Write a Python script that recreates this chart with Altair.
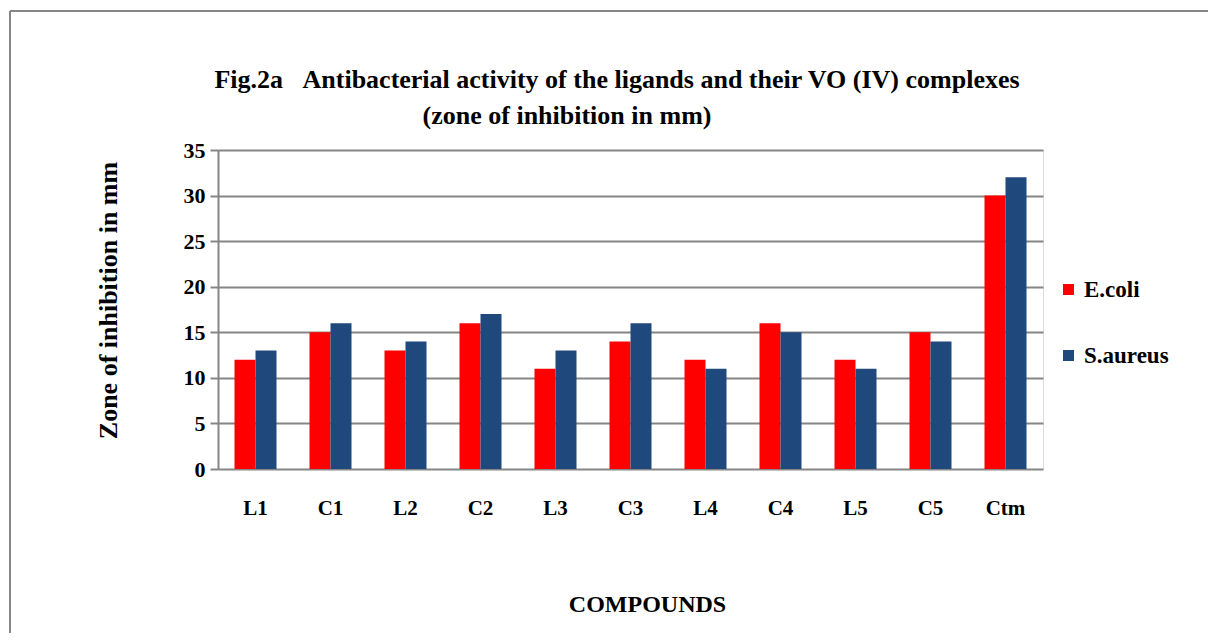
import altair as alt
import pandas as pd

categories = ["L1", "C1", "L2", "C2", "L3", "C3", "L4", "C4", "L5", "C5", "Ctm"]
ecoli = [12, 15, 13, 16, 11, 14, 12, 16, 12, 15, 30]
saureus = [13, 16, 14, 17, 13, 16, 11, 15, 11, 14, 32]
series = ["E.coli", "S.aureus"]
colors = ["#FF0000", "#1F497D"]
y_ticks = [0, 5, 10, 15, 20, 25, 30, 35]

title_line1 = "Fig.2a\u00a0\u00a0\u00a0Antibacterial activity of the ligands and their VO (IV) complexes"
title_line2 = "(zone of inhibition in mm)"

rows = []
for c, e, s in zip(categories, ecoli, saureus):
    rows.append({"Compound": c, "Organism": series[0], "Zone": e})
    rows.append({"Compound": c, "Organism": series[1], "Zone": s})
df = pd.DataFrame(rows)

FONT = "Liberation Serif"
GRID = "#868686"
W, H = 825, 319

bars = alt.Chart(df).mark_bar().encode(
    x=alt.X("Compound:N", sort=categories,
            scale=alt.Scale(paddingInner=0.44, paddingOuter=0.22),
            axis=alt.Axis(title="COMPOUNDS", labelAngle=0, domain=False, ticks=False,
                          labelFont=FONT, labelFontSize=21, labelFontWeight="bold",
                          labelColor="black", labelPadding=28,
                          titleFont=FONT, titleFontSize=24, titleFontWeight="bold",
                          titleColor="black", titleX=429, titleY=135,
                          titleBaseline="middle", titleAnchor="middle")),
    xOffset=alt.XOffset("Organism:N", sort=series),
    y=alt.Y("Zone:Q", scale=alt.Scale(domain=[0, 35], nice=False),
            axis=alt.Axis(title="Zone of inhibition in mm", values=y_ticks,
                          domainColor=GRID, domainWidth=2,
                          tickColor=GRID, tickWidth=2, tickSize=8,
                          gridColor=GRID, gridWidth=2,
                          labelFont=FONT, labelFontSize=22, labelFontWeight="bold",
                          labelColor="black", labelPadding=5,
                          titleFont=FONT, titleFontSize=26, titleFontWeight="bold",
                          titleColor="black", titleX=-110, titleY=150,
                          titleAnchor="middle", titleBaseline="middle")),
    color=alt.Color("Organism:N", sort=series,
                    scale=alt.Scale(domain=series, range=colors),
                    legend=alt.Legend(title=None, orient="none", legendX=839, legendY=128,
                                      symbolType="square", symbolSize=121,
                                      symbolStrokeWidth=0,
                                      labelFont=FONT, labelFontSize=23,
                                      labelFontWeight="bold", labelColor="black",
                                      rowPadding=42, padding=0, labelOffset=4)),
)

t1 = alt.Chart(pd.DataFrame({"t": [title_line1]})).mark_text(
    font=FONT, fontSize=26, fontWeight="bold", color="black", align="center", baseline="middle"
).encode(x=alt.value(399), y=alt.value(-70), text="t:N")

t2 = alt.Chart(pd.DataFrame({"t": [title_line2]})).mark_text(
    font=FONT, fontSize=26, fontWeight="bold", color="black", align="center", baseline="middle"
).encode(x=alt.value(349), y=alt.value(-34), text="t:N")

frame_top = alt.Chart(pd.DataFrame({"a": [0]})).mark_rule(color=GRID, strokeWidth=2).encode(
    x=alt.value(-208), x2=alt.value(1000), y=alt.value(-139))
frame_left = alt.Chart(pd.DataFrame({"a": [0]})).mark_rule(color=GRID, strokeWidth=2).encode(
    x=alt.value(-208), y=alt.value(-139), y2=alt.value(500))

chart = alt.layer(bars, t1, t2, frame_top, frame_left).properties(
    width=W, height=H,
    autosize=alt.AutoSizeParams(type="none"),
    padding={"left": 210, "top": 142, "right": 165, "bottom": 164},
).configure_view(stroke=None).configure(background="white")

chart.save("out.html", embed_options={"renderer": "svg", "actions": False})
